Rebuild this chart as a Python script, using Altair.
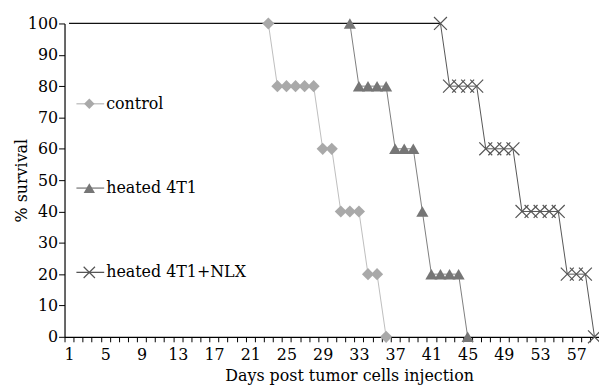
import altair as alt
import pandas as pd

# ---- data ----
day_categories = list(range(1, 60))
label_every = 4

control_days = [23, 24, 25, 26, 27, 28, 29, 30, 31, 32, 33, 34, 35, 36]
control_surv = [100, 80, 80, 80, 80, 80, 60, 60, 40, 40, 40, 20, 20, 0]

t1_days = [32, 33, 34, 35, 36, 37, 38, 39, 40, 41, 42, 43, 44, 45]
t1_surv = [100, 80, 80, 80, 80, 60, 60, 60, 40, 20, 20, 20, 20, 0]

nlx_days = [42, 43, 44, 45, 46, 47, 48, 49, 50, 51, 52, 53, 54, 55, 56, 57, 58, 59]
nlx_surv = [100, 80, 80, 80, 80, 60, 60, 60, 60, 40, 40, 40, 40, 40, 20, 20, 20, 0]

# shared 100% plateau before the first deaths
plateau_days = [1, 42]
plateau_surv = [100, 100]

series_names = ["control", "heated 4T1", "heated 4T1+NLX"]

FONT = "DejaVu Serif"
FS = 16

df_c = pd.DataFrame({"day": control_days, "surv": control_surv})
df_t = pd.DataFrame({"day": t1_days, "surv": t1_surv})
df_n = pd.DataFrame({"day": nlx_days, "surv": nlx_surv})
df_p = pd.DataFrame({"day": plateau_days, "surv": plateau_surv})

x_enc = alt.X(
    "day:O",
    scale=alt.Scale(type="band", domain=day_categories, paddingInner=0, paddingOuter=0),
    axis=alt.Axis(
        title="Days post tumor cells injection",
        labelExpr=f"(datum.value - 1) % {label_every} == 0 ? datum.value : ''",
        labelAngle=0,
        labelOverlap=False,
        tickBand="extent",
        tickSize=5,
        tickColor="black",
        tickWidth=1,
        domainColor="black",
        domainWidth=1.2,
        labelColor="black",
        labelFont=FONT,
        labelFontSize=FS,
        labelPadding=5,
        titleFont=FONT,
        titleFontSize=FS,
        titleFontWeight="normal",
        titleColor="black",
        titleX=287,
        titleY=44,
        titleAlign="center",
        titleBaseline="alphabetic",
    ),
)
y_enc = alt.Y(
    "surv:Q",
    scale=alt.Scale(domain=[0, 100], nice=False),
    axis=alt.Axis(
        title="% survival",
        values=list(range(0, 101, 10)),
        grid=False,
        tickSize=6,
        tickColor="black",
        tickWidth=1,
        domainColor="black",
        domainWidth=1.2,
        labelColor="black",
        labelFont=FONT,
        labelFontSize=FS,
        labelPadding=1,
        titleFont=FONT,
        titleFontSize=FS,
        titleFontWeight="normal",
        titleColor="black",
        titleX=-38,
        titleY=158,
        titleBaseline="alphabetic",
    ),
)

X_SHAPE = "M-1,-1L1,1M-1,1L1,-1"

plateau = alt.Chart(df_p).mark_line(color="#111111", strokeWidth=1.3).encode(x=x_enc, y=y_enc)

c_line = alt.Chart(df_c).mark_line(color="#bdbdbd", strokeWidth=1).encode(x=x_enc, y=y_enc)
c_pts = alt.Chart(df_c).mark_point(shape="diamond", filled=True, color="#a9a9a9", size=150, opacity=1).encode(x=x_enc, y=y_enc)

t_line = alt.Chart(df_t).mark_line(color="#7d7d7d", strokeWidth=1).encode(x=x_enc, y=y_enc)
t_pts = alt.Chart(df_t).mark_point(shape="triangle-up", filled=True, color="#767676", size=150, opacity=1).encode(x=x_enc, y=y_enc)

n_line = alt.Chart(df_n).mark_line(color="#555555", strokeWidth=1).encode(x=x_enc, y=y_enc)
n_pts = alt.Chart(df_n).mark_point(shape=X_SHAPE, filled=False, color="#555555", size=170, strokeWidth=1.2, opacity=1).encode(x=x_enc, y=y_enc)

# ---- manual in-plot legend ----
legend_rows = [
    (series_names[0], "#bdbdbd", dict(shape="diamond", filled=True, color="#a9a9a9", size=110), 81),
    (series_names[1], "#7d7d7d", dict(shape="triangle-up", filled=True, color="#767676", size=130), 166),
    (series_names[2], "#555555", dict(shape=X_SHAPE, filled=False, color="#555555", size=130, strokeWidth=1.2), 251),
]
legend_layers = []
for name, lcol, pkw, ypix in legend_rows:
    ldf = pd.DataFrame({"series": [name]})
    legend_layers.append(
        alt.Chart(ldf).mark_rule(color=lcol, strokeWidth=1.3).encode(
            x=alt.value(12), x2=alt.value(40), y=alt.value(ypix)
        )
    )
    legend_layers.append(
        alt.Chart(ldf).mark_point(opacity=1, **pkw).encode(x=alt.value(25), y=alt.value(ypix))
    )
    legend_layers.append(
        alt.Chart(ldf).mark_text(
            align="left", baseline="middle", font=FONT, fontSize=FS, color="black"
        ).encode(x=alt.value(42), y=alt.value(ypix), text="series:N")
    )

chart = alt.layer(
    plateau, c_line, t_line, n_line, c_pts, t_pts, n_pts, *legend_layers
).properties(
    width=539,
    height=316,
    background="white",
    autosize=alt.AutoSizeParams(type="none"),
    padding={"left": 57, "top": 14, "right": 0, "bottom": 49},
).configure_view(stroke=None)

chart.save("out.html", embed_options={"renderer": "svg", "actions": False})
